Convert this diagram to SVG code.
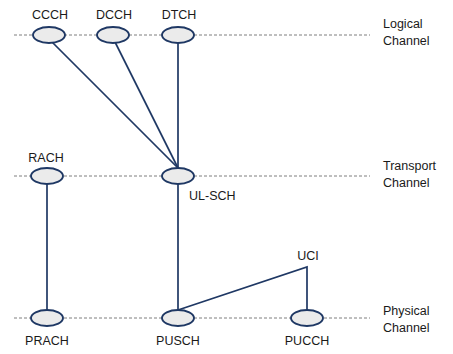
<svg xmlns="http://www.w3.org/2000/svg" width="453" height="354" viewBox="0 0 453 354">
<style>
.dash{stroke:#7f7f7f;stroke-width:1;stroke-dasharray:3,2;fill:none}
.ln{stroke:#1f3864;stroke-width:1.7;fill:none}
.nd{fill:#ebebeb;stroke:#1f3864;stroke-width:1.9}
.lbl{font-family:"Liberation Sans",Arial,sans-serif;font-size:12.5px;fill:#1a1a1a;text-anchor:middle}
.side{font-family:"Liberation Sans",Arial,sans-serif;font-size:12.5px;fill:#1a1a1a}
</style>
<rect width="453" height="354" fill="#fff"/>
<g id="layers">
<line class="dash" x1="14" y1="35" x2="370" y2="35"/>
<line class="dash" x1="14" y1="176" x2="370" y2="176"/>
<line class="dash" x1="14" y1="318" x2="370" y2="318"/>
<text class="side" x="383" y="28">Logical</text>
<text class="side" x="383" y="45">Channel</text>
<text class="side" x="383" y="170">Transport</text>
<text class="side" x="383" y="187">Channel</text>
<text class="side" x="383" y="315">Physical</text>
<text class="side" x="383" y="332">Channel</text>
</g>
<g id="connectors">
<line class="ln" x1="52" y1="42" x2="178" y2="168"/>
<line class="ln" x1="115" y1="42" x2="178" y2="168"/>
<line class="ln" x1="178" y1="42" x2="178" y2="168"/>
<line class="ln" x1="47" y1="184" x2="47" y2="310"/>
<line class="ln" x1="178" y1="184" x2="178" y2="310"/>
<polyline class="ln" points="178,310 307,267 307,310"/>
</g>
<g id="CCCH"><ellipse class="nd" cx="49" cy="35" rx="16" ry="8"/><text class="lbl" x="50" y="19">CCCH</text></g>
<g id="DCCH"><ellipse class="nd" cx="113" cy="35" rx="16" ry="8"/><text class="lbl" x="114" y="19">DCCH</text></g>
<g id="DTCH"><ellipse class="nd" cx="178" cy="35" rx="16" ry="8"/><text class="lbl" x="179" y="19">DTCH</text></g>
<g id="RACH"><ellipse class="nd" cx="47" cy="176" rx="16" ry="8"/><text class="lbl" x="46" y="162">RACH</text></g>
<g id="UL-SCH"><ellipse class="nd" cx="178" cy="176" rx="16" ry="8"/><text class="lbl" x="189" y="200" style="text-anchor:start">UL-SCH</text></g>
<g id="PRACH"><ellipse class="nd" cx="47" cy="318" rx="16" ry="8"/><text class="lbl" x="47" y="345">PRACH</text></g>
<g id="PUSCH"><ellipse class="nd" cx="178" cy="318" rx="16" ry="8"/><text class="lbl" x="178" y="345">PUSCH</text></g>
<g id="PUCCH"><ellipse class="nd" cx="307" cy="318" rx="16" ry="8"/><text class="lbl" x="307" y="345">PUCCH</text></g>
<g id="UCI"><text class="lbl" x="308" y="260">UCI</text></g>
</svg>
